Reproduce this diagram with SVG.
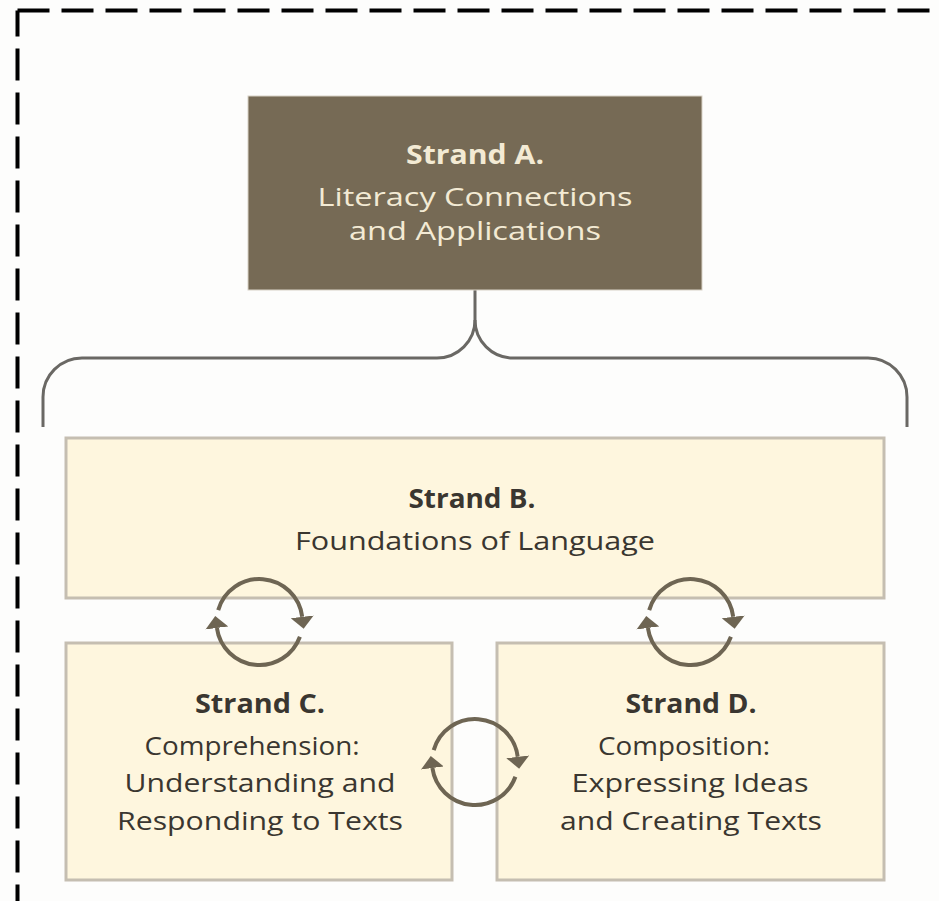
<svg xmlns="http://www.w3.org/2000/svg" width="939" height="901" viewBox="0 0 939 901">
  <defs>
    <style>
      .frame { fill: none; stroke: #000; stroke-width: 4; stroke-dasharray: 32 12; }
      .brace { fill: none; stroke: #6a6864; stroke-width: 3; }
      .light { fill: #fef6de; stroke: #c5beb1; stroke-width: 3; }
      .dark { fill: #766a55; stroke: #d8d2c6; stroke-width: 1; }
      .t { font-family: "Open Sans", "Liberation Sans", sans-serif; font-size: 26px; text-anchor: middle; fill: #3a3630; }
      .b { font-weight: 700; }
      .cream { fill: #f3ead4; }
      .cycle { fill: none; stroke: #6e6553; stroke-width: 4; }
    </style>
    <marker id="head" markerUnits="userSpaceOnUse" markerWidth="14" markerHeight="26" viewBox="0 -13 14 26" refX="0" refY="0" orient="auto">
      <path d="M0,-11.5 L12,0 L0,11.5 Z" fill="#6e6553"/>
    </marker>
  </defs>

  <rect width="939" height="901" fill="#fdfdfc"/>

  <!-- dashed outer frame, open on the right and bottom -->
  <path class="frame" d="M17.5,10.5 H939"/>
  <path class="frame" d="M17.5,10.5 V901" stroke-dashoffset="6"/>

  <g id="connectors">
    <!-- brace joining strand A to the lower strands -->
    <path class="brace" d="M475,290 V320 A38 38 0 0 1 437,358 H82 A39 39 0 0 0 43,397 V427"/>
    <path class="brace" d="M475,320 A38 38 0 0 0 513,358 H868 A39 39 0 0 1 907,397 V427"/>
  </g>

  <g id="strand-a">
    <rect class="dark" x="248" y="96" width="454" height="194"/>
    <text class="t b cream" x="475" y="164" textLength="138" lengthAdjust="spacingAndGlyphs">Strand A.</text>
    <text class="t cream" x="475" y="206" textLength="315" lengthAdjust="spacingAndGlyphs">Literacy Connections</text>
    <text class="t cream" x="475" y="240" textLength="252" lengthAdjust="spacingAndGlyphs">and Applications</text>
  </g>

  <g id="strand-b">
    <rect class="light" x="66" y="438" width="818" height="160"/>
    <text class="t b" x="472" y="508" textLength="127" lengthAdjust="spacingAndGlyphs">Strand B.</text>
    <text class="t" x="475" y="550" textLength="360" lengthAdjust="spacingAndGlyphs">Foundations of Language</text>
  </g>

  <g id="strand-c">
    <rect class="light" x="66" y="643" width="386" height="237"/>
    <text class="t b" x="260" y="713" textLength="130" lengthAdjust="spacingAndGlyphs">Strand C.</text>
    <text class="t" x="252" y="755" textLength="215" lengthAdjust="spacingAndGlyphs">Comprehension:</text>
    <text class="t" x="260" y="792" textLength="271" lengthAdjust="spacingAndGlyphs">Understanding and</text>
    <text class="t" x="260" y="830" textLength="286" lengthAdjust="spacingAndGlyphs">Responding to Texts</text>
  </g>

  <g id="strand-d">
    <rect class="light" x="497" y="643" width="387" height="237"/>
    <text class="t b" x="691" y="713" textLength="131" lengthAdjust="spacingAndGlyphs">Strand D.</text>
    <text class="t" x="684" y="755" textLength="172" lengthAdjust="spacingAndGlyphs">Composition:</text>
    <text class="t" x="690" y="792" textLength="237" lengthAdjust="spacingAndGlyphs">Expressing Ideas</text>
    <text class="t" x="691" y="830" textLength="262" lengthAdjust="spacingAndGlyphs">and Creating Texts</text>
  </g>

  <!-- two-way cycle arrows between strands (radius 43) -->
  <g id="cycle-bc" transform="translate(259.5 622)">
    <path class="cycle" marker-end="url(#head)" d="M-41.3,-11.9 A43 43 0 0 1 42.7,-5.2"/>
    <path class="cycle" marker-end="url(#head)" d="M40.4,14.7 A43 43 0 0 1 -42.6,6"/>
  </g>
  <g id="cycle-bd" transform="translate(690.5 622)">
    <path class="cycle" marker-end="url(#head)" d="M-41.3,-11.9 A43 43 0 0 1 42.7,-5.2"/>
    <path class="cycle" marker-end="url(#head)" d="M40.4,14.7 A43 43 0 0 1 -42.6,6"/>
  </g>
  <g id="cycle-cd" transform="translate(475 762)">
    <path class="cycle" marker-end="url(#head)" d="M-41.3,-11.9 A43 43 0 0 1 42.7,-5.2"/>
    <path class="cycle" marker-end="url(#head)" d="M40.4,14.7 A43 43 0 0 1 -42.6,6"/>
  </g>
</svg>
